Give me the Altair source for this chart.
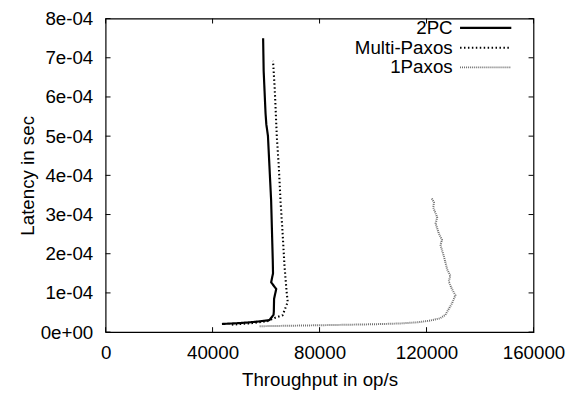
import altair as alt
import pandas as pd

series_names = ["2PC", "Multi-Paxos", "1Paxos"]

x_2pc = [43500, 50000, 55000, 60700, 61300, 62800, 62900, 63000, 63800, 61900, 62600, 62500, 61900, 61300, 60700, 60100, 59800, 59100, 58900]
y_2pc = [2.07e-5, 2.3e-5, 2.55e-5, 3.0e-5, 3.1e-5, 4.4e-5, 5.2e-5, 8.5e-5, 1.10e-4, 1.27e-4, 1.5e-4, 1.85e-4, 3.35e-4, 4.18e-4, 5.01e-4, 5.30e-4, 5.59e-4, 6.67e-4, 7.50e-4]

x_mp = [47200, 55000, 60500, 63200, 66200, 68100, 67700, 66900, 66200, 65400, 64800, 64000, 63500, 63200, 62600]
y_mp = [1.9e-5, 2.3e-5, 2.8e-5, 3.6e-5, 4.3e-5, 7.7e-5, 1.02e-4, 1.68e-4, 2.51e-4, 3.35e-4, 4.18e-4, 5.01e-4, 5.81e-4, 6.26e-4, 6.92e-4]

x_1p = [57600, 80000, 100000, 110000, 116500, 121000, 125000, 127100, 127700, 129500, 130800, 129500, 128300, 128900, 127700, 127100, 126500, 125200, 125800, 124600, 123400, 124000, 122500, 122800, 121800]
y_1p = [1.5e-5, 1.75e-5, 2.0e-5, 2.2e-5, 2.5e-5, 2.9e-5, 3.5e-5, 4.4e-5, 5.2e-5, 7.3e-5, 9.4e-5, 1.10e-4, 1.29e-4, 1.44e-4, 1.60e-4, 1.77e-4, 1.93e-4, 2.23e-4, 2.35e-4, 2.52e-4, 2.77e-4, 2.93e-4, 3.18e-4, 3.31e-4, 3.43e-4]

x_ticks = [0, 40000, 80000, 120000, 160000]
y_ticks = [0, 1e-4, 2e-4, 3e-4, 4e-4, 5e-4, 6e-4, 7e-4, 8e-4]

rows = []
for name, xs, ys in zip(series_names, [x_2pc, x_mp, x_1p], [y_2pc, y_mp, y_1p]):
    for i, (xv, yv) in enumerate(zip(xs, ys)):
        rows.append({"series": name, "x": xv, "y": yv, "i": i})
df = pd.DataFrame(rows)

W, H = 434, 318
FONT = "Liberation Sans"
FS = 19

xscale = alt.Scale(domain=[0, 160000], nice=False)
yscale = alt.Scale(domain=[0, 8e-4], nice=False)

lines = alt.Chart(df).mark_line(strokeCap="butt", strokeJoin="round").encode(
    x=alt.X("x:Q", scale=xscale, axis=alt.Axis(
        values=x_ticks, format="d", title="Throughput in op/s", ticks=False, labelPadding=12,
        labelFlush=False, labelOverlap=False, titleBaseline="middle", titleY=48, titleX=W / 2,
        domain=False, grid=False)),
    y=alt.Y("y:Q", scale=yscale, axis=alt.Axis(
        values=y_ticks, tickCount=9, title="Latency in sec", ticks=False, labelPadding=13,
        labelOverlap=False, labelFlush=False,
        labelExpr="replace(replace(format(datum.value, '.0e'), 'e-', 'e-0'), 'e+', 'e+0')",
        titleBaseline="middle", titleX=-79, titleY=H / 2, titleAngle=270,
        domain=False, grid=False)),
    color=alt.Color("series:N", scale=alt.Scale(domain=series_names, range=["#000000", "#000000", "#6e6e6e"]),
                    legend=alt.Legend(title=None, orient="none", legendX=376, legendY=0,
                                      symbolType="M-4,0H4", symbolSize=169,
                                      labelAlign="right", labelOffset={"expr": "-43"}, labelFontSize=FS,
                                      labelFont=FONT, rowPadding=0, padding=0,
                                      labelLimit=300)),
    strokeDash=alt.StrokeDash("series:N", scale=alt.Scale(domain=series_names, range=[[1, 0], [1.5, 2.5], [1, 1]]), legend=None),
    strokeWidth=alt.StrokeWidth("series:N", scale=alt.Scale(domain=series_names, range=[2.2, 2, 2]), legend=None),
    order=alt.Order("i:Q"),
)

tdx = pd.DataFrame({"v": x_ticks})
tdy = pd.DataFrame({"v": y_ticks})
TL = 5
xt_bottom = alt.Chart(tdx).mark_rule(color="black", strokeWidth=1).encode(
    x=alt.X("v:Q", scale=xscale), y=alt.value(H), y2=alt.value(H - TL))
xt_top = alt.Chart(tdx).mark_rule(color="black", strokeWidth=1).encode(
    x=alt.X("v:Q", scale=xscale), y=alt.value(0), y2=alt.value(TL))
yt_left = alt.Chart(tdy).mark_rule(color="black", strokeWidth=1).encode(
    y=alt.Y("v:Q", scale=yscale), x=alt.value(0), x2=alt.value(TL))
yt_right = alt.Chart(tdy).mark_rule(color="black", strokeWidth=1).encode(
    y=alt.Y("v:Q", scale=yscale), x=alt.value(W), x2=alt.value(W - TL))

chart = alt.layer(xt_bottom, xt_top, yt_left, yt_right, lines).properties(
    width=W, height=H,
    autosize=alt.AutoSizeParams(type="none"),
    padding={"left": 99, "top": 8, "right": 35, "bottom": 57},
).configure_view(stroke="black", strokeWidth=1.2).configure_axis(
    labelFont=FONT, titleFont=FONT, labelFontSize=FS, titleFontSize=FS,
    labelColor="black", titleColor="black", titleFontWeight="normal",
).configure_legend(labelColor="black")

chart.save("out.html", embed_options={"renderer": "svg", "actions": False})
